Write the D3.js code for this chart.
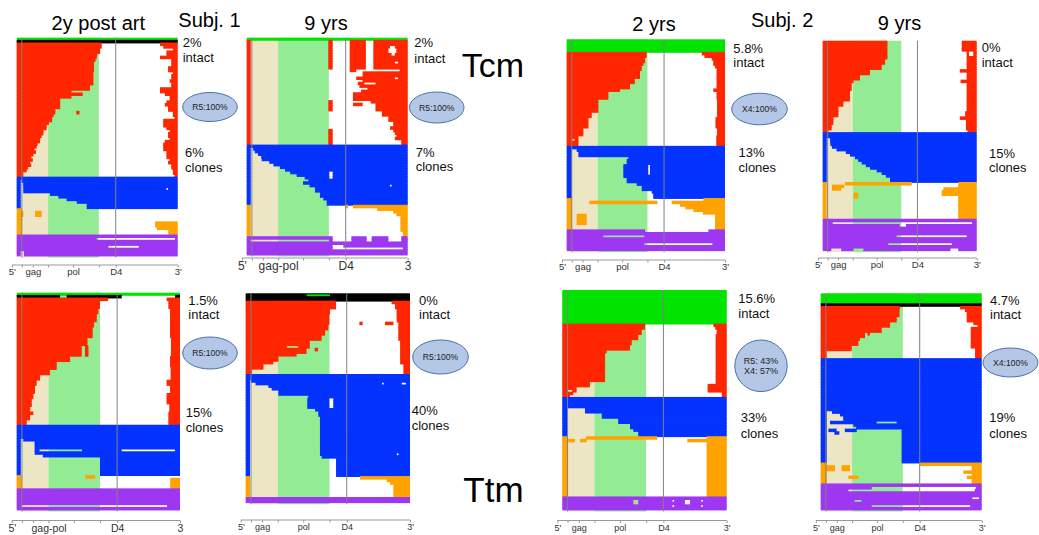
<!DOCTYPE html>
<html>
<head>
<meta charset="utf-8">
<script src="https://cdn.jsdelivr.net/npm/d3@7"></script>
<style>
  html, body { margin: 0; padding: 0; background: #fff; }
  svg { display: block; font-family: "Liberation Sans", Arial, Helvetica, sans-serif; }
</style>
</head>
<body>
<svg id="chart" width="1039" height="535"></svg>
<script>
// Proviral genome maps: each row is one sequence, drawn as the genome segments
// that are present (positions in % of genome length, 5' = 0, 3' = 100).
// Row lists are run-length coded: [repeat count, start, end, start, end, ...].

// Genome landmarks (% of length)
const LANDMARKS = { psi: 3.2, gagEnd: 19.5, polEnd: 51, d4: 61.5 };
const TICKS = [-3, 3.2, 10, 19.5, 35, 51, 61.5, 100];
const LABELS_A = { "-3": "5'", "10": "gag", "35": "pol", "61.5": "D4", "100": "3'" };
const LABELS_B = { "-3": "5'", "19.5": "gag-pol", "61.5": "D4", "100": "3" };

// ---------- Subject 1, 2y post ART, Tcm ----------
const s1y2tcmGreen = [[1, 0,100]];
const s1y2tcmBlack = [[1, 0,100]];
const s1y2tcmRed = [
  [1, 0,52.8, 89,100], [1, 0,52.8, 91,100], [1, 0,51.8, 97,100], [1, 0,51.8, 93,100],
  [1, 0,50, 93,100], [1, 0,49.7, 89,100], [1, 0,49, 96,100], [2, 0,48, 96,100],
  [2, 0,48, 94,100], [1, 0,47.6, 97,100], [2, 0,47.6, 96,100], [1, 0,47.6, 95,100],
  [1, 0,47.6, 96,100], [1, 0,45.5, 96,100], [1, 0,45.5, 89,100], [1, 0,34, 89,100],
  [1, 0,41, 92,100], [1, 0,34, 95,100], [1, 0,27, 95,100], [1, 0,27, 93,100],
  [1, 0,27, 92,100], [1, 0,27, 94,100], [1, 0,24, 94,100], [1, 0,24, 37,39, 97,100],
  [1, 0,23, 97,100], [1, 0,22, 98,100], [1, 0,22, 91,100], [1, 0,20, 91,100],
  [1, 0,18.6, 91,100], [1, 0,18.6, 93,100], [1, 0,16.6, 95,100], [1, 0,16.6, 94,100],
  [1, 0,15.5, 94,100], [1, 0,14.5, 95,100], [1, 0,14.5, 92,100], [1, 0,13, 91,100],
  [1, 0,12.4, 91,100], [1, 0,11, 91,100], [1, 0,12, 93,100], [1, 0,10.4, 93,100],
  [1, 0,9, 93,100], [1, 0,10, 95,100], [1, 0,8.3, 94,100], [1, 0,9, 96,100],
  [1, 0,7, 96,100], [1, 0,6.2, 97,100], [1, 0,4.1, 97,100], [1, 0,4.1, 98,100]
];
const s1y2tcmBlue = [
  [1, 0,100], [1, 0,2.5, 3,100], [1, 0,2.5, 4,100], [1, 0,2.5, 4.1,100],
  [1, 0,2.5, 4.1,93, 94,100], [1, 0,2.5, 4.1,100], [1, 0,2.5, 20.7,100],
  [1, 0,2.5, 25.9,100], [1, 0,2.5, 31,100], [1, 0,2.5, 37.3,100], [2, 0,2.5, 43.5,100]
];
const s1y2tcmOrange = [
  [1, 0,3.1], [2, 0,4.1, 11.4,15.5], [2, 0,3.1], [2, 0,3.1, 86,100],
  [1, 0,3.1, 87,100], [2, 0,3.1, 94.2,100]
];
const s1y2tcmPurple = [
  [1, 0,100], [1, 0,49.7, 98.3,100], [2, 0,100], [1, 0,57, 75.8,100],
  [1, 0,100], [2, 0,2.5, 4.5,100]
];

// ---------- Subject 1, 9 yrs, Tcm ----------
const s1y9tcmGreen = [[1, 0,100]];
const s1y9tcmRed = [
  [2, 0,2.5, 50.7,53.4, 64,74, 78.7,100],
  [1, 0,2.5, 50.7,53.4, 64,74, 78.7,89, 92,100],
  [2, 0,2.5, 50.7,53.4, 64,74, 78.7,88, 93,100],
  [1, 0,2.5, 50.7,53.4, 64,74, 78.7,90, 92,100],
  [2, 0,2.5, 50.7,53.4, 64,74, 78.7,100],
  [1, 0,2.5, 50.7,53.4, 64,74, 78.7,92, 94,100],
  [2, 0,2.5, 50.7,53.4, 64,74, 78.7,100],
  [1, 0,2.5, 64,68, 95,100], [2, 0,2.5, 72,100], [1, 0,2.5, 68,92, 94,100],
  [1, 0,2.5, 72,100], [1, 0,2.5, 69,73, 80,100], [1, 0,2.5, 70,100],
  [1, 0,2.5, 75,100], [1, 0,2.5, 71,100], [3, 0,2.5, 66,100],
  [1, 0,2.5, 50.7,53.4, 77,100], [1, 0,2.5, 50.7,53.4, 66,72, 80,100],
  [2, 0,2.5, 50.7,53.4, 80,100], [2, 0,2.5, 84,100], [2, 0,2.5, 88,100],
  [2, 0,2.5, 91,100], [1, 0,2.5, 89,100], [1, 0,2.5, 50.7,53.4, 91,100],
  [1, 0,2.5, 50.7,53.4, 92,100], [1, 0,2.5, 50.7,53.4, 93,100],
  [1, 0,2.5, 50.7,53.4, 92,100], [2, 0,2.5, 50.7,53.4, 96,100]
];
const s1y9tcmBlue = [
  [1, 0,100], [1, 0,2.5, 4,100], [1, 0,2.5, 5,100], [1, 0,2.5, 7,100],
  [1, 0,2.5, 9,100], [1, 0,2.5, 9.3,100], [1, 0,2.5, 14,100], [1, 0,2.5, 16.6,100],
  [1, 0,2.5, 20.7,100], [1, 0,2.5, 23.8,100], [1, 0,2.5, 27,51.3, 53.4,100],
  [1, 0,2.5, 31,51.3, 53.4,100], [1, 0,2.5, 36,51.3, 53.4,100], [1, 0,2.5, 38.3,100],
  [1, 0,2.5, 35,100], [1, 0,2.5, 39,89, 90,100], [2, 0,2.5, 42.4,100],
  [2, 0,2.5, 45.5,100], [1, 0,2.5, 47.6,100], [2, 0,2.5, 49.7,100]
];
const s1y9tcmOrange = [
  [1, 0,2.5, 61,63, 66,100], [1, 0,2.5, 81,100], [1, 0,2.5, 91,100],
  [1, 0,2.5, 93,100], [6, 0,2.5, 95.5,100], [2, 0,2.5, 97,100]
];
const s1y9tcmPurple = [
  [1, 0,53.4, 65,74.5, 77.6,88, 96,100],
  [1, 0,2.5, 51,53.4, 65,74.5, 77.6,88, 96,100],
  [1, 0,100], [1, 0,53.4, 60,100], [1, 0,53.4, 97,100], [2, 0,100]
];

// ---------- Subject 2, 2 yrs, Tcm ----------
const s2y2tcmGreen = [[5, 0,100]];
const s2y2tcmRed = [
  [1, 0,50.5, 85.3,100], [1, 0,50.5, 87,100], [1, 0,49.5, 91.6,100], [1, 0,49.5, 92.6,100],
  [1, 0,48.5, 92.6,100], [1, 0,47.4, 93.7,100], [1, 0,47.4, 94.7,100], [3, 0,46.3, 94.7,100],
  [2, 0,43, 94.7,100], [2, 0,40, 94.7,100], [1, 0,33.7, 92.6,100], [3, 0,26.3, 94.7,100],
  [5, 0,20, 95,100], [2, 0,15.8, 95,100], [4, 0,13.7, 94,100], [3, 0,10.5, 95,100],
  [1, 0,7.4, 94.5,100], [1, 0,3.5, 5,7.4, 94.5,100], [2, 0,7.4, 94.5,100]
];
const s2y2tcmBlue = [
  [1, 0,100], [1, 0,3.2, 6.3,100], [2, 0,3.2, 7.4,100], [1, 0,3.2, 38.9,100],
  [2, 0,3.2, 37.9,100], [4, 0,3.2, 35.8,51.5, 52.6,100], [1, 0,3.2, 35.8,100],
  [2, 0,3.2, 37.9,100], [1, 0,3.2, 44.2,100], [2, 0,3.2, 47.4,100],
  [1, 0,3.2, 53.7,100], [2, 0,3.2, 54.7,100]
];
const s2y2tcmOrange = [
  [1, 0,3.2, 86.3,100], [1, 0,3.2, 14.3,57.3, 66.3,100], [1, 0,3.2, 71.6,100],
  [1, 0,3.2, 75,100], [1, 0,3.2, 80,100], [1, 0,3.2, 86,100],
  [4, 0,3.2, 6.3,12.6, 93.7,100], [2, 0,3.2, 93.7,100]
];
const s2y2tcmPurple = [
  [1, 0,49.5, 89.5,100], [1, 0,100], [1, 0,23.2, 49,100], [2, 0,100],
  [1, 0,49, 92,100], [2, 0,100]
];

// ---------- Subject 2, 9 yrs, Tcm ----------
const s2y9tcmRed = [
  [4, 0,42, 90.3,100], [2, 0,42, 93.5,95, 97.8,100], [1, 0,42, 93.5,100],
  [2, 0,40.5, 93.5,100], [2, 0,38.3, 93.5,100], [1, 0,30.7, 89,100],
  [1, 0,30.7, 93.5,100], [2, 0,24.2, 93.5,100], [1, 0,20, 89.5,100],
  [3, 0,18.8, 93.5,100], [4, 0,17.7, 93.5,100], [2, 0,13.4, 93.5,100],
  [2, 0,10.2, 93.5,100], [2, 0,10.2, 92.5,100], [1, 0,6.9, 89,100],
  [2, 0,6.9, 93,100], [2, 0,5.8, 93,100], [1, 0,3.7, 94,100]
];
const s2y9tcmBlue = [
  [2, 0,100], [2, 0,2.6, 4.8,100], [1, 0,2.6, 5,100], [1, 0,2.6, 6,100],
  [1, 0,2.6, 9,100], [1, 0,2.6, 15,100], [1, 0,2.6, 17.7,100], [1, 0,2.6, 21,100],
  [1, 0,2.6, 23,100], [1, 0,2.6, 25.3,100], [1, 0,2.6, 28,100], [1, 0,2.6, 30.7,100],
  [1, 0,2.6, 35,100], [1, 0,2.6, 38.3,100], [1, 0,2.6, 41,100], [2, 0,2.6, 43.7,100]
];
const s2y9tcmOrange = [
  [1, 0,2.6, 14.5,57.8, 88,100], [1, 0,2.6, 6,14, 88,100], [1, 0,2.6, 6,12, 78.4,100],
  [1, 0,2.6, 77.3,100], [1, 0,2.6, 20,23, 77.3,100], [1, 0,2.6, 20,23, 88,100],
  [8, 0,2.6, 88,100]
];
const s2y9tcmPurple = [
  [1, 0,100], [1, 0,6.5, 97,100], [1, 0,50, 54,100], [3, 0,100],
  [1, 0,48, 93.5,100], [2, 0,100], [1, 0,42.6, 83.8,100], [1, 0,100],
  [1, 0,5.6, 12,20, 26.4,83, 88,100]
];

// ---------- Subject 1, 2y post ART, Ttm ----------
const s1y2ttmGreen = [[1, 0,100]];
const s1y2ttmBlack = [[1, 0,26.5, 30.6,64.3, 97,100]];
const s1y2ttmRed = [
  [1, 0,56, 91.8,100], [3, 0,51, 92.9,100], [2, 0,50, 93.9,100], [3, 0,49, 93.9,100],
  [2, 0,47.3, 93.9,100], [4, 0,46.5, 93.9,100], [3, 0,43.3, 94.5,100],
  [4, 0,39.8, 41.8,43.9, 94.5,100], [2, 0,32.7, 93.9,100], [2, 0,24.5, 93.9,100],
  [1, 0,24.5, 94.3,100], [2, 0,20.4, 94.3,100], [2, 0,14.3, 94.3,100],
  [2, 0,12.2, 91.8,100], [3, 0,11.2, 93.9,100], [2, 0,10.2, 91.8,100],
  [2, 0,9.2, 91.8,100], [1, 0,9.2, 93.5,100], [2, 0,8.2, 93.5,100],
  [1, 0,10.2, 92.9,100], [2, 0,8.2, 92.9,100], [2, 0,6.1, 92.9,100]
];
const s1y2ttmBlue = [
  [5, 0,100], [1, 0,2.5, 4,100], [3, 0,2.5, 11,100],
  [1, 0,2.5, 11,14, 40,64.3, 96.9,100], [1, 0,2.5, 11,100], [1, 0,2.5, 16,100],
  [7, 0,2.5, 51,100]
];
const s1y2ttmOrange = [[1, 0,3, 42,48], [4, 0,3, 94,100]];
const s1y2ttmPurple = [[6, 0,100], [1, 0,3, 92,100], [1, 0,100]];

// ---------- Subject 1, 9 yrs, Ttm ----------
const s1y9ttmBlack = [[3, 0,100]];
const s1y9ttmMarks = [[37.1, 51.3]];   // short green stretch within the first row
const s1y9ttmRed = [
  [1, 0,55, 88.8,100], [2, 0,55, 90.9,100], [2, 0,51.3, 91.9,100], [3, 0,50.9, 91.9,100],
  [1, 0,50.9, 69.2,71.2, 84.8,89.9, 92.9,100], [2, 0,50.3, 92.9,100],
  [2, 0,48.3, 92.9,100], [2, 0,46.2, 92.9,100], [2, 0,39, 94,100],
  [1, 0,25, 32,39, 94,100], [1, 0,37, 42,44, 94,100], [1, 0,37, 94,100],
  [1, 0,31, 94,100], [2, 0,19.9, 94,100], [1, 0,16.8, 94,100],
  [2, 0,10.8, 96,100], [2, 0,3.7, 96,100]
];
const s1y9ttmBlue = [
  [2, 0,100], [1, 0,2.6, 3.2,100], [1, 0,2.6, 6,83, 84,95, 97.5,100],
  [1, 0,2.6, 13.8,100], [1, 0,2.6, 15.8,100], [2, 0,2.6, 19.9,100],
  [1, 0,2.6, 38.1,100], [4, 0,2.6, 37.5,50.9, 53.3,100], [1, 0,2.6, 42.2,100],
  [2, 0,2.6, 44.2,100], [14, 0,2.6, 45.2,100], [1, 0,2.6, 45.2,92, 93,100],
  [1, 0,2.6, 46.2,100], [7, 0,2.6, 55,100]
];
const s1y9ttmOrange = [
  [1, 0,2.6, 69.6,100], [1, 0,2.6, 85.8,100], [1, 0,2.6, 87.8,100], [5, 0,2.6, 89.9,100]
];
const s1y9ttmPurple = [[2, 0,100]];

// ---------- Subject 2, 2 yrs, Ttm ----------
const s2y2ttmGreen = [[13, 0,100]];
const s2y2ttmRed = [
  [1, 0,50.3, 91.9,100], [1, 0,50.3, 93,100], [2, 0,48.3, 93.9,100], [2, 0,46.2, 93.3,100],
  [2, 0,42.2, 93.3,100], [2, 0,41.2, 93.3,100], [1, 0,27, 93.3,100], [11, 0,26, 93.3,100],
  [1, 0,16.8, 93.3,100], [1, 0,16.8, 88.4,100], [1, 0,8.7, 88.4,100],
  [1, 0,3, 6,8.7, 88.4,100], [1, 0,6.7, 97,100], [1, 0,4.7, 97,100]
];
const s2y2ttmBlue = [
  [4, 0,100], [2, 0,3, 13.8,100], [2, 0,3, 24,100], [2, 0,3, 34,100],
  [2, 0,3, 41.2,100], [1, 0,3, 43.2,100], [2, 0,3, 46.2,100]
];
const s2y2ttmOrange = [
  [1, 0,3, 14.4,57.8, 87.8,100], [1, 0,3, 3.6,7.7, 10.8,14.8, 76,100], [21, 0,3, 87.8,100]
];
const s2y2ttmPurple = [
  [1, 0,100], [1, 0,43.2, 46.2,67, 68,74.6, 77.7,84.5, 85.5,100],
  [1, 0,43.2, 46.2,74.6, 77.7,100], [1, 0,67, 68,84.5, 85.5,100], [1, 0,100]
];

// ---------- Subject 2, 9 yrs, Ttm ----------
const s2y9ttmGreen = [[4, 0,100]];
const s2y9ttmBlack = [[1, 0,100]];
const s2y9ttmRed = [
  [1, 0,49.3, 86.5,100], [1, 0,48.9, 89.6,100], [2, 0,48.9, 90.7,100], [2, 0,47.2, 90.7,100],
  [1, 0,43.1, 94.8,100], [1, 0,43.1, 97.5,100], [2, 0,37.9, 93.2,100],
  [1, 0,27.5, 29,30.6, 93.2,100], [1, 0,27.5, 93.2,100], [1, 0,24.4, 93.2,100],
  [2, 0,23.4, 93.2,100], [1, 0,19.3, 93.2,100], [1, 0,19.3, 95.9,100], [3, 0,3.7, 95.9,100]
];
const s2y9ttmBlue = [
  [20, 0,100], [1, 0,3.7, 7,100], [1, 0,3.7, 12,100], [2, 0,3.7, 14,100],
  [1, 0,3.7, 5.8,34.8, 47.2,100], [1, 0,3.7, 20.3,100], [1, 0,3.7, 22,100],
  [1, 0,3.7, 4.8,9.9, 15,22.4, 50.3,100], [1, 0,3.7, 8.5,11.6, 50.3,100],
  [11, 0,3.7, 50.3,100]
];
const s2y9ttmOrange = [
  [1, 0,3.7, 61.7,100], [2, 0,8.9, 13,18.2, 93.8,100], [1, 0,3.7, 88.6,100],
  [1, 0,3.7, 93.8,100], [1, 0,3.7, 17.2,23.4, 90.7,100], [2, 0,3.7, 93.8,100]
];
const s2y9ttmPurple = [
  [1, 0,100], [1, 0,31.7, 96.5,100], [1, 0,17.2, 95.7,100], [2, 0,100],
  [1, 0,94.2, 98.3,100], [1, 0,21.1, 25.3,100], [1, 0,100],
  [1, 0,31.7, 92.8,100], [1, 0,100]
];

// Side annotations
const intactPct = ["2%", "2%", "5.8%", "0%", "1.5%", "0%", "15.6%", "4.7%"];
const clonePct  = ["6%", "7%", "13%", "15%", "15%", "40%", "33%", "19%"];
const tropism   = [["R5:100%"], ["R5:100%"], ["X4:100%"], null, ["R5:100%"], ["R5:100%"], ["R5: 43%", "X4: 57%"], ["X4:100%"]];

// ---------- styling / layout ----------
const COLORS = {
  green: "#00e400", black: "#000000", red: "#ff2600", blue: "#0433ff",
  orange: "#ffa300", purple: "#9e37f2",
  gagBg: "#ede6c4", polBg: "#93eb93", line: "#808080"
};

const panels = [
  { x0: 16.7, x1: 177.7, top: 37.7, bottom: 256, axisY: 265, fs: 9.5, labels: LABELS_A,
    groups: [["green", s1y2tcmGreen], ["black", s1y2tcmBlack], ["red", s1y2tcmRed], ["blue", s1y2tcmBlue], ["orange", s1y2tcmOrange], ["purple", s1y2tcmPurple]],
    text: { x1: 182.7, y1: 46.7, y2: 61.7, x2: 185, y3: 156.7, y4: 171.7 },
    ell: { cx: 210, cy: 107, rx: 27.3, ry: 14.5, fs: 8.6 } },
  { x0: 246.7, x1: 407.7, top: 37.7, bottom: 255, axisY: 258, fs: 12, labels: LABELS_B,
    groups: [["green", s1y9tcmGreen], ["red", s1y9tcmRed], ["blue", s1y9tcmBlue], ["orange", s1y9tcmOrange], ["purple", s1y9tcmPurple]],
    text: { x1: 414.3, y1: 46.7, y2: 63, x2: 415.7, y3: 156.7, y4: 170.7 },
    ell: { cx: 436.7, cy: 107.5, rx: 27.3, ry: 15.5, fs: 8.6 } },
  { x0: 566.7, x1: 725, top: 39.3, bottom: 250.7, axisY: 260, fs: 9.5, labels: LABELS_A,
    groups: [["green", s2y2tcmGreen], ["red", s2y2tcmRed], ["blue", s2y2tcmBlue], ["orange", s2y2tcmOrange], ["purple", s2y2tcmPurple]],
    text: { x1: 733.3, y1: 53.3, y2: 66.7, x2: 738.5, y3: 156.7, y4: 171.7 },
    ell: { cx: 759.5, cy: 109, rx: 27.8, ry: 15.8, fs: 8.6 } },
  { x0: 822.7, x1: 976.7, top: 40.7, bottom: 250.7, axisY: 258, fs: 9.5, labels: LABELS_A,
    groups: [["red", s2y9tcmRed], ["blue", s2y9tcmBlue], ["orange", s2y9tcmOrange], ["purple", s2y9tcmPurple]],
    text: { x1: 981.7, y1: 51.7, y2: 66.7, x2: 989, y3: 158.3, y4: 171.7 },
    ell: null },
  { x0: 16.7, x1: 180, top: 292.7, bottom: 510, axisY: 520.5, fs: 10.5, labels: LABELS_B,
    groups: [["green", s1y2ttmGreen], ["black", s1y2ttmBlack], ["red", s1y2ttmRed], ["blue", s1y2ttmBlue], ["orange", s1y2ttmOrange], ["purple", s1y2ttmPurple]],
    text: { x1: 188.3, y1: 305, y2: 319.3, x2: 185.7, y3: 416.7, y4: 431.7 },
    ell: { cx: 210, cy: 353, rx: 27.3, ry: 16, fs: 8.6 } },
  { x0: 245.7, x1: 410, top: 293.3, bottom: 502.7, axisY: 520, fs: 9, labels: LABELS_A,
    groups: [["black", s1y9ttmBlack], ["red", s1y9ttmRed], ["blue", s1y9ttmBlue], ["orange", s1y9ttmOrange], ["purple", s1y9ttmPurple]],
    marks: s1y9ttmMarks,
    text: { x1: 419, y1: 305, y2: 319.3, x2: 411.7, y3: 415, y4: 430 },
    ell: { cx: 440.5, cy: 357, rx: 27.8, ry: 17, fs: 8.6 } },
  { x0: 562.3, x1: 726.7, top: 290, bottom: 510, axisY: 520.5, fs: 9, labels: LABELS_A,
    groups: [["green", s2y2ttmGreen], ["red", s2y2ttmRed], ["blue", s2y2ttmBlue], ["orange", s2y2ttmOrange], ["purple", s2y2ttmPurple]],
    text: { x1: 738.3, y1: 303.3, y2: 317.7, x2: 740.7, y3: 421.5, y4: 438 },
    ell: { cx: 761, cy: 365.8, rx: 26.2, ry: 25.8, fs: 9 } },
  { x0: 820.7, x1: 981.7, top: 293.3, bottom: 510, axisY: 520.5, fs: 9, labels: LABELS_A,
    groups: [["green", s2y9ttmGreen], ["black", s2y9ttmBlack], ["red", s2y9ttmRed], ["blue", s2y9ttmBlue], ["orange", s2y9ttmOrange], ["purple", s2y9ttmPurple]],
    text: { x1: 990, y1: 305, y2: 319.3, x2: 989.3, y3: 421.5, y4: 438 },
    ell: { cx: 1010.5, cy: 362.5, rx: 27.5, ry: 14.5, fs: 8.6 } }
];

// Expand run-length coded rows into one record per sequence
function expandRows(groups) {
  const rows = [];
  groups.forEach(([color, runs]) => {
    runs.forEach(run => {
      const segs = [];
      for (let k = 1; k + 1 < run.length; k += 2) segs.push([run[k], run[k + 1]]);
      for (let n = 0; n < run[0]; n++) rows.push({ color, segs });
    });
  });
  return rows;
}

const svg = d3.select("#chart");

panels.forEach((p, pi) => {
  const g = svg.append("g");
  const rows = expandRows(p.groups);
  const x = d3.scaleLinear().domain([0, 100]).range([p.x0, p.x1]);
  const y = d3.scaleBand().domain(d3.range(rows.length)).range([p.top, p.bottom]);
  const bgBottom = p.bottom + 1.5;
  const bh = y.bandwidth();

  // gag / pol shading
  g.append("rect").attr("x", x(LANDMARKS.psi)).attr("y", p.top)
    .attr("width", x(LANDMARKS.gagEnd) - x(LANDMARKS.psi)).attr("height", bgBottom - p.top)
    .attr("fill", COLORS.gagBg);
  g.append("rect").attr("x", x(LANDMARKS.gagEnd)).attr("y", p.top)
    .attr("width", x(LANDMARKS.polEnd) - x(LANDMARKS.gagEnd)).attr("height", bgBottom - p.top)
    .attr("fill", COLORS.polBg);

  // sequences (slight vertical overlap keeps blocks solid)
  const rowG = g.selectAll("g.row").data(rows).join("g").attr("class", "row");
  rowG.selectAll("rect")
    .data((d, i) => d.segs.filter(s => s[1] > s[0]).map(s => ({ s, i, color: d.color })))
    .join("rect")
    .attr("x", d => x(d.s[0]))
    .attr("y", d => y(d.i) - (d.i > 0 ? 0.45 : 0))
    .attr("width", d => x(d.s[1]) - x(d.s[0]))
    .attr("height", d => bh + (d.i > 0 ? 0.9 : 0.45))
    .attr("fill", d => COLORS[d.color]);

  if (p.marks) {
    g.selectAll("rect.mark").data(p.marks).join("rect").attr("class", "mark")
      .attr("x", d => x(d[0])).attr("y", y(0) + bh * 0.4)
      .attr("width", d => x(d[1]) - x(d[0])).attr("height", bh * 0.7)
      .attr("fill", COLORS.green);
  }

  // psi and D4 reference lines
  g.selectAll("line.ref").data([LANDMARKS.psi, LANDMARKS.d4]).join("line").attr("class", "ref")
    .attr("x1", d => x(d)).attr("x2", d => x(d))
    .attr("y1", p.top).attr("y2", bgBottom)
    .attr("stroke", COLORS.line).attr("stroke-width", 1);

  // genome axis
  const axis = d3.axisBottom(x).tickValues(TICKS).tickSize(2.5).tickPadding(1.2)
    .tickFormat(d => p.labels[String(d)] || "");
  const ax = g.append("g").attr("transform", `translate(0,${p.axisY})`).call(axis);
  ax.select(".domain").attr("d", `M${x(-3)},0H${x(100)}`).attr("stroke", "#999");
  ax.selectAll(".tick line").attr("stroke", "#999");
  ax.selectAll(".tick text").attr("fill", "#333").attr("font-size", p.fs)
    .attr("font-family", "'Liberation Sans', Arial, sans-serif");

  // side annotations
  const t = p.text;
  const side = [[intactPct[pi], t.x1, t.y1], ["intact", t.x1, t.y2], [clonePct[pi], t.x2, t.y3], ["clones", t.x2, t.y4]];
  g.selectAll("text.side").data(side).join("text").attr("class", "side")
    .attr("x", d => d[1]).attr("y", d => d[2]).attr("font-size", 13).attr("fill", "#111")
    .text(d => d[0]);

  if (p.ell && tropism[pi]) {
    const e = p.ell;
    g.append("ellipse").attr("cx", e.cx).attr("cy", e.cy).attr("rx", e.rx).attr("ry", e.ry)
      .attr("fill", "#b4c7e7").attr("stroke", "#4a72a8").attr("stroke-width", 1);
    const lines = tropism[pi];
    const lh = e.fs * 1.15;
    g.selectAll("text.trop").data(lines).join("text").attr("class", "trop")
      .attr("x", e.cx).attr("text-anchor", "middle").attr("font-size", e.fs).attr("fill", "#222")
      .attr("y", (d, i) => e.cy + e.fs * 0.36 + (i - (lines.length - 1) / 2) * lh)
      .text(d => d);
  }
});

// Column titles, subject labels and cell-type labels
const titles = [
  { t: "2y post art", x: 98.3, y: 29.5, size: 20, anchor: "middle" },
  { t: "9 yrs", x: 326, y: 30, size: 20, anchor: "middle" },
  { t: "2 yrs", x: 654, y: 30.5, size: 20, anchor: "middle" },
  { t: "9 yrs", x: 899.5, y: 30, size: 20, anchor: "middle" },
  { t: "Subj. 1", x: 178.3, y: 26.7, size: 20, anchor: "start" },
  { t: "Subj. 2", x: 751, y: 27, size: 20, anchor: "start" },
  { t: "Tcm", x: 461.7, y: 76.7, size: 34, anchor: "start" },
  { t: "Ttm", x: 463.3, y: 501.7, size: 35, anchor: "start" }
];
svg.selectAll("text.title").data(titles).join("text").attr("class", "title")
  .attr("x", d => d.x).attr("y", d => d.y).attr("font-size", d => d.size)
  .attr("text-anchor", d => d.anchor).attr("fill", "#000").text(d => d.t);
</script>
</body>
</html>
